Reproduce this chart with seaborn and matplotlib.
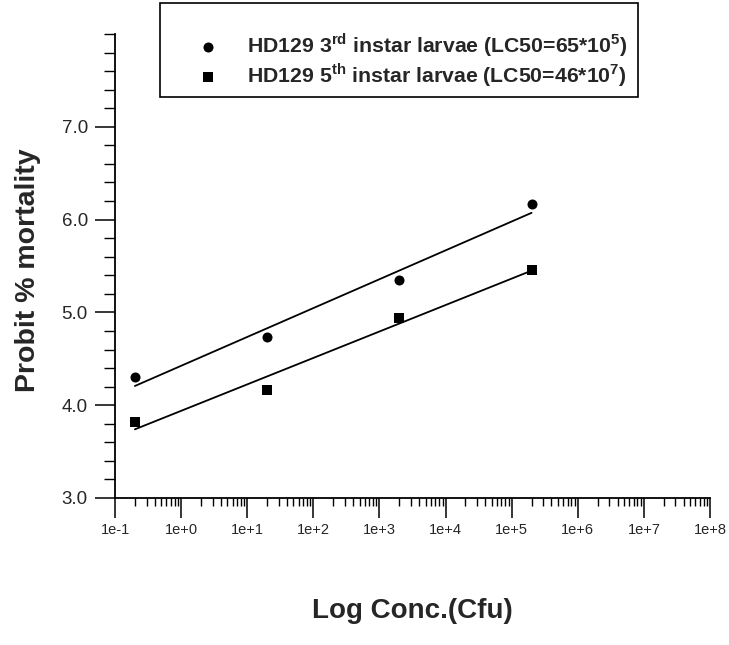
import numpy as np
import pandas as pd
import matplotlib
matplotlib.use('Agg')
import matplotlib.pyplot as plt
import matplotlib.ticker as mticker
from matplotlib.patches import Rectangle
import seaborn as sns

# Données
conc = [2e-1, 2e+1, 2e+3, 2e+5]
probit_3rd = [4.30, 4.74, 5.35, 6.17]
probit_5th = [3.82, 4.16, 4.94, 5.46]
label_3rd = r'HD129 3$^{\mathbf{rd}}$ instar larvae (LC50=65*10$^{\mathbf{5}}$)'
label_5th = r'HD129 5$^{\mathbf{th}}$ instar larvae (LC50=46*10$^{\mathbf{7}}$)'
y_ticks = [3.0, 4.0, 5.0, 6.0, 7.0]
x_ticks = [1e-1, 1e0, 1e1, 1e2, 1e3, 1e4, 1e5, 1e6, 1e7, 1e8]
x_ticklabels = ['1e-1', '1e+0', '1e+1', '1e+2', '1e+3', '1e+4', '1e+5', '1e+6', '1e+7', '1e+8']

df = pd.DataFrame({
    'conc': conc * 2,
    'probit': probit_3rd + probit_5th,
    'stade': [label_3rd] * 4 + [label_5th] * 4,
})

sns.set_style('ticks')
plt.rcParams['font.family'] = ['Liberation Sans', 'DejaVu Sans']
plt.rcParams['mathtext.fontset'] = 'custom'
plt.rcParams['mathtext.rm'] = 'Liberation Sans'
plt.rcParams['mathtext.bf'] = 'Liberation Sans:bold'

W, H = 729, 645
fig = plt.figure(figsize=(W / 100, H / 100), dpi=100)
ax = fig.add_axes([115 / W, 1 - 498 / H, 595 / W, 464 / H])
ax.set_xscale('log')

# Régression probit ~ log(conc) pour chaque stade
for stade, marker in [(label_3rd, 'o'), (label_5th, 's')]:
    sub = df[df['stade'] == stade]
    sns.regplot(data=sub, x='conc', y='probit', logx=True, ci=None, ax=ax,
                color='black', marker=marker, label=stade,
                scatter_kws={'s': 52 if marker == 'o' else 42, 'alpha': 1, 'linewidths': 0},
                line_kws={'lw': 1.3})

ax.set_xlim(1e-1, 1e8)
ax.set_ylim(3.0, 8.0)
ax.set_xticks(x_ticks)
ax.set_xticklabels(x_ticklabels, fontsize=10.5)
ax.xaxis.set_minor_locator(mticker.LogLocator(base=10, subs=np.arange(2, 10), numticks=20))
ax.xaxis.set_minor_formatter(mticker.NullFormatter())
ax.set_yticks(y_ticks)
ax.set_yticklabels([f'{v:.1f}' for v in y_ticks], fontsize=13.5)
ax.yaxis.set_minor_locator(mticker.MultipleLocator(0.2))
ax.tick_params(which='major', length=14.5, width=1.1, color='black')
ax.tick_params(axis='y', which='major', pad=5)
ax.tick_params(axis='y', which='minor', length=8, width=1.0, color='black')
ax.tick_params(axis='x', which='minor', length=5.5, width=1.0, color='black')

sns.despine(ax=ax)
for s in ['left', 'bottom']:
    ax.spines[s].set_linewidth(1.3)
    ax.spines[s].set_color('black')

ax.set_xlabel('Log Conc.(Cfu)', fontsize=20, fontweight='bold')
ax.xaxis.set_label_coords(0.5, -0.215)
ax.set_ylabel('Probit % mortality', fontsize=20.5, fontweight='bold')
ax.yaxis.set_label_coords(-0.124, 0.49)

# Légende sans cadre + cadre rectangulaire dessiné à part
leg = fig.legend(loc='center left', bbox_to_anchor=(197 / W, 1 - 60 / H),
                 fontsize=15.3, frameon=False, borderpad=0, labelspacing=0.12,
                 handlelength=1.0, handletextpad=1.35, borderaxespad=0, markerscale=1.0)
for t in leg.get_texts():
    t.set_fontweight('bold')
fig.add_artist(Rectangle((160 / W, 1 - 97 / H), 478 / W, 94 / H, transform=fig.transFigure,
                         fill=False, edgecolor='black', linewidth=1.2))

plt.savefig('out.png', dpi=100)
